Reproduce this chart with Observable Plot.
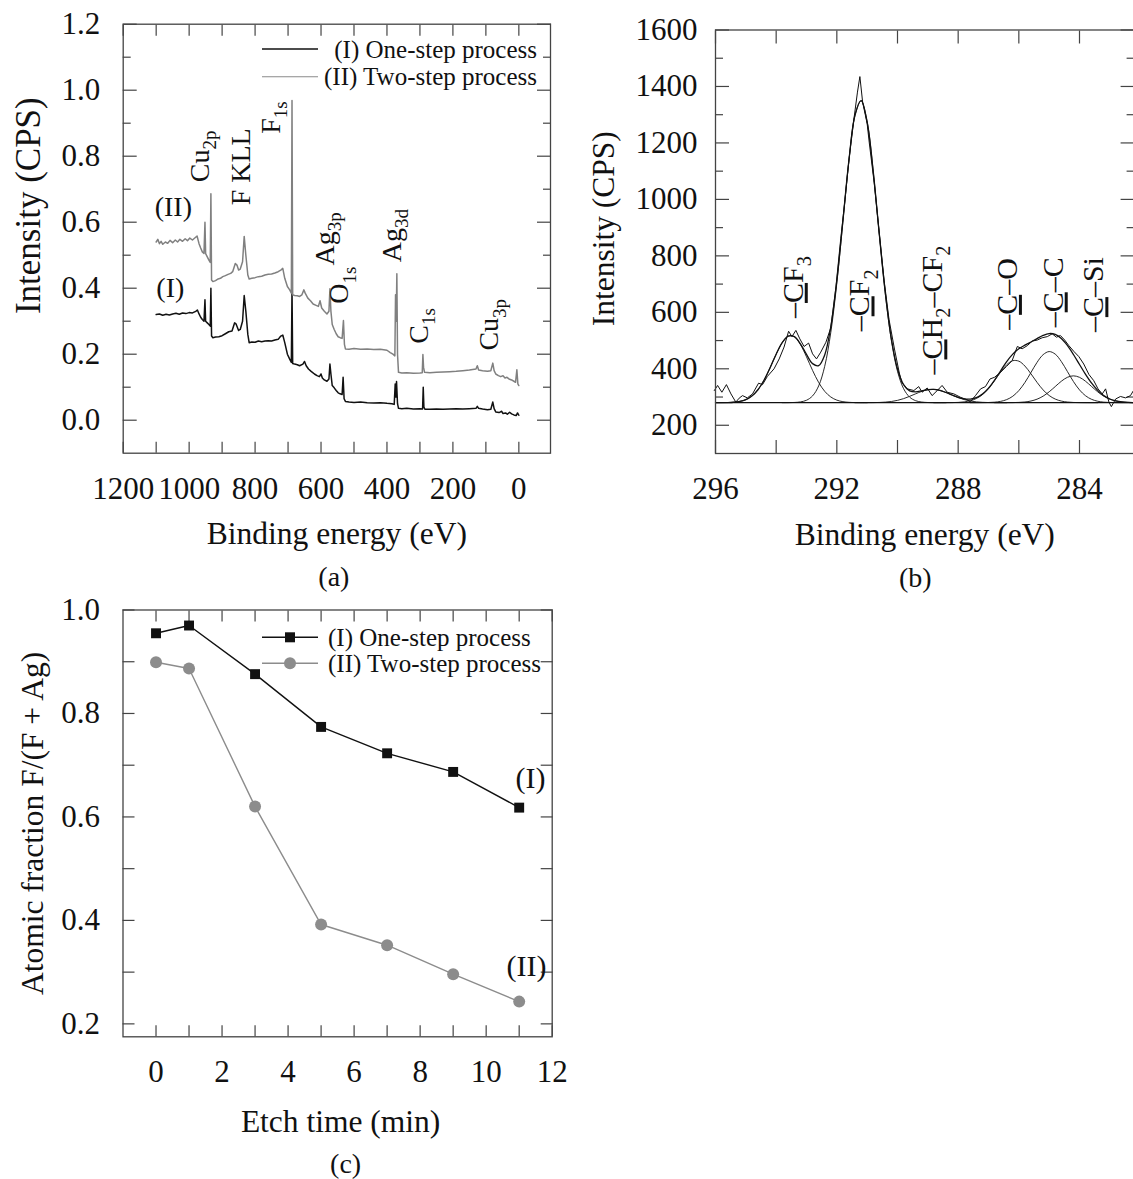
<!DOCTYPE html>
<html><head><meta charset="utf-8">
<script src="https://cdn.jsdelivr.net/npm/d3@7"></script>
<script src="https://cdn.jsdelivr.net/npm/@observablehq/plot@0.6"></script>
<style>
html,body{margin:0;padding:0;background:#fff;overflow:hidden;}
#page{position:relative;width:1133px;height:1179px;overflow:hidden;background:#fff;}
</style></head><body><div id="page"></div>
<script>
// ---------------- DATA ----------------
const seriesNames = ["(I) One-step process", "(II) Two-step process"];

// (a) XPS survey spectra: [binding energy (eV), intensity (CPS, scaled)]
const spectrumOneStep = [
[1100,0.320],[1090,0.322],[1080,0.318],[1070,0.321],[1060,0.319],[1050,0.322],[1040,0.324],[1030,0.321],[1020,0.325],[1010,0.323],[1000,0.326],[990,0.325],[980,0.330],[975,0.334],[970,0.322],[965,0.312],[960,0.305],[955,0.300],[952,0.365],[950,0.300],[945,0.295],[940,0.290],[936,0.285],[934,0.400],[932,0.255],[928,0.250],[920,0.252],[910,0.253],[900,0.256],[890,0.262],[880,0.268],[870,0.270],[862,0.295],[858,0.292],[850,0.272],[845,0.275],[838,0.300],[833,0.378],[828,0.330],[822,0.260],[818,0.235],[810,0.237],[800,0.236],[790,0.240],[780,0.238],[770,0.240],[760,0.241],[750,0.240],[740,0.243],[730,0.245],[722,0.255],[716,0.258],[710,0.235],[702,0.200],[695,0.185],[690,0.175],[688,0.400],[686,0.172],[680,0.170],[672,0.168],[665,0.165],[655,0.170],[650,0.178],[645,0.165],[638,0.155],[630,0.148],[620,0.140],[612,0.135],[605,0.132],[600,0.140],[596,0.128],[590,0.122],[582,0.118],[576,0.125],[573,0.170],[570,0.140],[566,0.105],[560,0.098],[554,0.090],[548,0.083],[542,0.080],[536,0.078],[533,0.130],[530,0.065],[526,0.057],[515,0.055],[500,0.054],[480,0.055],[460,0.053],[440,0.052],[420,0.053],[400,0.051],[385,0.050],[378,0.048],[375,0.110],[373,0.070],[371,0.117],[368,0.050],[365,0.036],[355,0.035],[340,0.036],[320,0.034],[300,0.035],[292,0.034],[290,0.100],[288,0.040],[285,0.033],[270,0.033],[250,0.034],[230,0.033],[210,0.034],[190,0.035],[170,0.034],[150,0.035],[130,0.036],[126,0.042],[122,0.036],[110,0.034],[95,0.032],[85,0.033],[79,0.055],[75,0.035],[70,0.025],[60,0.023],[52,0.027],[48,0.020],[40,0.022],[35,0.018],[28,0.024],[22,0.019],[15,0.016],[8,0.014],[4,0.022],[0,0.015]
];
const spectrumTwoStep = [
[1100,0.540],[1095,0.548],[1090,0.535],[1085,0.542],[1080,0.533],[1072,0.540],[1065,0.536],[1058,0.545],[1050,0.538],[1042,0.546],[1035,0.540],[1028,0.548],[1020,0.542],[1012,0.550],[1005,0.544],[998,0.552],[990,0.546],[982,0.553],[976,0.558],[970,0.535],[965,0.522],[960,0.510],[955,0.505],[952,0.600],[950,0.505],[945,0.495],[940,0.485],[936,0.478],[934,0.686],[932,0.425],[928,0.420],[920,0.423],[912,0.428],[905,0.430],[898,0.435],[890,0.438],[882,0.442],[874,0.445],[868,0.450],[860,0.475],[855,0.470],[850,0.455],[845,0.458],[838,0.480],[833,0.557],[828,0.500],[822,0.440],[818,0.428],[810,0.430],[800,0.432],[790,0.435],[780,0.436],[770,0.440],[760,0.442],[750,0.443],[740,0.446],[730,0.450],[722,0.455],[716,0.460],[710,0.430],[702,0.405],[695,0.395],[690,0.385],[688,0.969],[686,0.380],[680,0.378],[672,0.377],[665,0.375],[658,0.380],[652,0.395],[648,0.385],[640,0.370],[632,0.362],[624,0.352],[615,0.348],[608,0.345],[603,0.362],[598,0.340],[590,0.330],[582,0.322],[576,0.330],[573,0.398],[570,0.330],[566,0.290],[560,0.275],[554,0.262],[548,0.253],[542,0.250],[536,0.248],[532,0.302],[529,0.230],[526,0.216],[515,0.215],[500,0.217],[480,0.215],[460,0.216],[440,0.214],[420,0.215],[400,0.212],[390,0.205],[382,0.200],[376,0.195],[374,0.380],[372,0.300],[370,0.444],[368,0.200],[365,0.145],[355,0.143],[340,0.144],[320,0.142],[300,0.143],[293,0.144],[291,0.199],[289,0.160],[286,0.145],[270,0.144],[250,0.145],[230,0.146],[210,0.147],[190,0.148],[170,0.150],[150,0.152],[130,0.155],[126,0.165],[122,0.152],[110,0.150],[95,0.148],[85,0.150],[79,0.173],[75,0.150],[70,0.140],[62,0.135],[55,0.132],[48,0.135],[42,0.128],[36,0.130],[30,0.125],[22,0.122],[15,0.118],[10,0.115],[6,0.153],[3,0.110],[0,0.105]
];
const surveyPeakLabels = [
  {text: "Cu_{2p}", energy: 968, intensity: 0.721},
  {text: "F KLL", energy: 844, intensity: 0.651},
  {text: "F_{1s}", energy: 753, intensity: 0.868},
  {text: "Ag_{3p}", energy: 589, intensity: 0.469},
  {text: "O_{1s}", energy: 544, intensity: 0.353},
  {text: "Ag_{3d}", energy: 386, intensity: 0.479},
  {text: "C_{1s}", energy: 304, intensity: 0.232},
  {text: "Cu_{3p}", energy: 89, intensity: 0.211}
];
const surveySeriesLabels = [
  {text: "(II)", energy: 1048, intensity: 0.645},
  {text: "(I)", energy: 1057, intensity: 0.400}
];
const surveyEnergyTicks = [1200, 1000, 800, 600, 400, 200, 0];
const surveyEnergyMinor = [1100, 900, 700, 500, 300, 100];
const surveyIntensityTicks = [0, 0.2, 0.4, 0.6, 0.8, 1.0, 1.2];
const surveyIntensityMinor = [0.1, 0.3, 0.5, 0.7, 0.9, 1.1];

// (b) C1s high-resolution spectrum: [binding energy (eV), intensity (CPS)]
const c1sBaseline = 280;
const c1sRaw = [
[296.04,323],[295.93,341],[295.79,317],[295.64,344],[295.49,311],[295.33,282],[295.22,296],[295.11,305],[294.95,297],[294.78,311],[294.58,349],[294.45,344],[294.29,373],[294.07,400],[293.90,435],[293.74,477],[293.59,533],[293.48,514],[293.35,536],[293.22,506],[293.08,479],[292.93,491],[292.80,453],[292.67,435],[292.53,459],[292.36,494],[292.20,545],[292.03,690],[291.87,862],[291.73,1000],[291.59,1150],[291.43,1290],[291.32,1380],[291.24,1435],[291.15,1345],[291.00,1268],[290.93,1200],[290.77,1060],[290.60,880],[290.44,712],[290.28,575],[290.10,470],[289.94,385],[289.86,352],[289.68,329],[289.46,323],[289.30,337],[289.19,317],[289.02,332],[288.86,305],[288.69,323],[288.53,341],[288.36,317],[288.14,311],[287.92,299],[287.70,290],[287.60,283],[287.43,305],[287.26,329],[287.10,337],[286.95,364],[286.80,370],[286.60,388],[286.41,408],[286.22,429],[286.05,479],[285.89,471],[285.72,482],[285.56,498],[285.39,502],[285.23,510],[285.06,514],[284.90,524],[284.76,512],[284.63,518],[284.49,502],[284.35,482],[284.19,462],[284.02,443],[283.86,417],[283.69,380],[283.53,358],[283.39,329],[283.25,311],[283.14,329],[283.03,282],[282.95,266],[282.81,293],[282.65,302],[282.48,297],[282.32,305],[282.22,323]
];
const c1sEnvelope = [
[296.0,280],[295.8,280.2],[295.6,280.5],[295.4,281.6],[295.2,284.4],[295.0,290.7],[294.8,303.5],[294.6,325.8],[294.4,359.6],[294.2,403.7],[294.0,451.8],[293.8,493],[293.6,515.9],[293.4,514],[293.2,488.6],[293.0,451],[292.8,418.3],[292.6,411],[292.4,449],[292.2,548.5],[292.0,712.7],[291.8,924.5],[291.6,1140.3],[291.4,1299],[291.2,1350],[291.0,1274],[290.8,1098.5],[290.6,877],[290.4,666.8],[290.2,504],[290.0,399.4],[289.8,344],[289.6,322],[289.4,318.4],[289.2,322],[289.0,326],[288.8,327],[288.6,323.3],[288.4,316],[288.2,307.2],[288.0,299.1],[287.8,293.8],[287.6,292.8],[287.4,297.7],[287.2,310.3],[287.0,331.2],[286.8,360],[286.6,392.9],[286.4,425.3],[286.2,451.8],[286.0,470.8],[285.8,483.8],[285.6,495.1],[285.4,507.1],[285.2,518.4],[285.0,524.9],[284.8,521.9],[284.6,507.4],[284.4,482.7],[284.2,450.7],[284.0,415.3],[283.8,380.2],[283.6,348.9],[283.4,323.6],[283.2,305],[283.0,293.1],[282.8,286.1],[282.6,282.5],[282.4,281],[282.2,280.3]
];
const componentCF3 = [
[296.0,280],[295.6,280.5],[295.4,281.6],[295.2,284.4],[295.0,290.7],[294.8,303.5],[294.6,325.8],[294.4,359.6],[294.2,403.7],[294.0,451.8],[293.8,493],[293.6,515.9],[293.4,513.2],[293.2,485.9],[293.0,442.4],[292.8,394.3],[292.6,351.9],[292.4,320.3],[292.2,300.2],[292.0,289],[291.8,283.6],[291.6,281.3],[291.4,280.4],[291.0,280]
];
const componentCF2 = [
[293.8,280],[293.6,280.1],[293.4,280.8],[293.2,282.7],[293.0,288.6],[292.8,304],[292.6,339.1],[292.4,408.7],[292.2,528.3],[292.0,703.7],[291.8,920.9],[291.6,1139],[291.4,1298.6],[291.2,1349.8],[291.0,1274],[290.8,1098.4],[290.6,876.2],[290.4,664.8],[290.2,499.7],[290.0,391.2],[289.8,329.8],[289.6,299.7],[289.4,286.9],[289.2,282.2],[289.0,280.6],[288.8,280],[288.4,280]
];
const componentCH2CF2 = [
[291.4,280],[291.0,280.1],[290.8,280.3],[290.6,280.8],[290.4,282],[290.2,284.2],[290.0,288.2],[289.8,294.3],[289.6,302.4],[289.4,311.5],[289.2,320],[289.0,325.6],[288.8,327],[288.6,323.3],[288.4,316],[288.2,306.9],[288.0,298.1],[287.8,291],[287.6,286],[287.4,282.9],[287.2,281.3],[287.0,280.5],[286.8,280.2],[286.4,280]
];
const componentCO = [
[288.8,280],[288.4,280.1],[288.2,280.3],[288.0,281],[287.8,282.8],[287.6,286.8],[287.4,294.8],[287.2,308.8],[287.0,330.1],[286.8,358],[286.6,388.3],[286.4,414.3],[286.2,428.7],[286.0,427],[285.8,409.8],[285.6,382.3],[285.4,352],[285.2,325.3],[285.0,305.4],[284.8,292.8],[284.6,285.7],[284.4,282.3],[284.2,280.8],[284.0,280.3],[283.8,280],[283.4,280]
];
const componentCC = [
[287.6,280],[287.2,280.2],[287.0,280.6],[286.8,281.8],[286.6,284.6],[286.4,290.9],[286.2,302.8],[286.0,322.8],[285.8,351.5],[285.6,386.9],[285.4,422.7],[285.2,450],[285.0,461],[284.8,452],[284.6,425.9],[284.4,390.6],[284.2,354.9],[284.0,325.2],[283.8,304.4],[283.6,291.8],[283.4,285.1],[283.2,281.9],[283.0,280.7],[282.8,280.2],[282.6,280],[282.2,280]
];
const componentCSi = [
[286.8,280],[286.4,280.1],[286.2,280.3],[286.0,281],[285.8,282.5],[285.6,285.9],[285.4,292.4],[285.2,303.1],[285.0,318.5],[284.8,337.1],[284.6,355.8],[284.4,369.8],[284.2,375],[284.0,369.8],[283.8,355.8],[283.6,337.1],[283.4,318.5],[283.2,303.1],[283.0,292.4],[282.8,285.9],[282.6,282.5],[282.4,281],[282.2,280.3]
];
const c1sComponents = [componentCF3, componentCF2, componentCH2CF2, componentCO, componentCC, componentCSi];
const c1sPeakLabels = [
  {text: "–[C]F_{3}", energy: 293.44, cps: 580},
  {text: "–[C]F_{2}", energy: 291.24, cps: 533},
  {text: "–[C]H_{2}–CF_{2}", energy: 288.84, cps: 380},
  {text: "–[C]–O", energy: 286.38, cps: 538},
  {text: "–[C]–C", energy: 284.87, cps: 547},
  {text: "–[C]–Si", energy: 283.53, cps: 530}
];
const c1sEnergyLabels = [296, 292, 288, 284];
const c1sEnergyTicks = [296, 294, 292, 290, 288, 286, 284];
const c1sCpsTicks = [200, 400, 600, 800, 1000, 1200, 1400, 1600];
const c1sCpsMinor = [300, 500, 700, 900, 1100, 1300, 1500];

// (c) Atomic fraction vs etch time
const etchTime = [0, 1, 3, 5, 7, 9, 11];
const fractionOneStep = [0.955, 0.970, 0.876, 0.774, 0.723, 0.687, 0.618];
const fractionTwoStep = [0.899, 0.887, 0.620, 0.392, 0.352, 0.296, 0.243];
const etchSeriesLabels = [
  {text: "(I)", time: 11.34, fraction: 0.674},
  {text: "(II)", time: 11.22, fraction: 0.312}
];
const etchTicks = [0, 2, 4, 6, 8, 10, 12];
const etchMinor = [1, 3, 5, 7, 9, 11];
const fractionTicks = [0.2, 0.4, 0.6, 0.8, 1.0];
const fractionMinor = [0.3, 0.5, 0.7, 0.9];

// ---------------- STYLE ----------------
const FONT = '"Liberation Serif", "Times New Roman", Times, serif';
const INK = "#111";
const AXIS = "#444";
const GREY = "#808080";
const GREY_DOT = "#8c8c8c";
const TICK_FS = 31;
const TITLE_FS = 31.5;

function frameAxes(o) {
  const t = {stroke: AXIS, strokeWidth: 1.2, fill: "none", label: null};
  const m = [];
  for (const anchor of ["bottom", "top"]) {
    m.push(Plot.axisX(o.xTicks, {anchor, tickSize: -o.xLen, ...t}));
  }
  for (const anchor of ["left", "right"]) {
    m.push(Plot.axisY(o.yTicks, {anchor, tickSize: -o.yLen, ...t}));
    if (o.yMinor) m.push(Plot.axisY(o.yMinor, {anchor, tickSize: -o.yMinorLen, ...t}));
  }
  m.push(Plot.axisX(o.xLabels, {anchor: "bottom", tickSize: 0, tickPadding: o.xPad, tickFormat: o.xFormat, fontSize: TICK_FS, fill: INK, label: null}));
  m.push(Plot.axisY(o.yLabels, {anchor: "left", tickSize: 0, tickPadding: o.yPad, tickFormat: o.yFormat, fontSize: TICK_FS, fill: INK, label: null}));
  return m;
}
function caption(str, opts) {
  return Plot.text([str], {text: d => d, fill: INK, textAnchor: "middle", lineAnchor: "middle", ...opts});
}

const page = document.getElementById("page");
function place(svg, left, top) {
  svg.style.position = "absolute";
  svg.style.left = left + "px";
  svg.style.top = top + "px";
  svg.style.overflow = "visible";
  page.appendChild(svg);
  richify(svg);
}
// converts _{sub} and [underline] markup into tspans
function richify(root) {
  const NS = "http://www.w3.org/2000/svg";
  root.querySelectorAll("text").forEach(t => {
    if (t.querySelector("tspan")) return;
    const s = t.textContent;
    if (!/[_\[]/.test(s)) return;
    const fs = parseFloat(getComputedStyle(t).fontSize) || 28;
    const sub = +(fs * 0.27).toFixed(1);
    t.textContent = "";
    const re = /_\{([^}]*)\}|\[([^\]]*)\]|([^_\[]+)/g;
    let m, shifted = false;
    while ((m = re.exec(s))) {
      const ts = document.createElementNS(NS, "tspan");
      if (m[1] !== undefined) {
        ts.textContent = m[1];
        ts.setAttribute("font-size", (fs * 0.68).toFixed(1));
        if (!shifted) { ts.setAttribute("dy", sub); shifted = true; }
      } else {
        ts.textContent = m[2] !== undefined ? m[2] : m[3];
        if (shifted) { ts.setAttribute("dy", -sub); shifted = false; }
        if (m[2] !== undefined) ts.setAttribute("text-decoration", "underline");
      }
      t.appendChild(ts);
    }
  });
}

// ---------------- (a) ----------------
const svgA = Plot.plot({
  width: 570, height: 600,
  marginLeft: 122.7, marginRight: 20, marginTop: 23.7, marginBottom: 147.3,
  x: {domain: [1200, -96]},
  y: {domain: [-0.1, 1.2]},
  style: {fontFamily: FONT, background: "transparent", color: INK},
  marks: [
    ...frameAxes({xTicks: [...surveyEnergyTicks, ...surveyEnergyMinor], xLen: 11, yTicks: surveyIntensityTicks, yLen: 14, yMinor: surveyIntensityMinor, yMinorLen: 8,
      xLabels: surveyEnergyTicks, yLabels: surveyIntensityTicks, xFormat: d => String(d), yFormat: d3.format(".1f"), xPad: 24, yPad: 23}),
    Plot.line(spectrumOneStep, {x: d => d[0], y: d => d[1], stroke: INK, strokeWidth: 1.5}),
    Plot.line(spectrumTwoStep, {x: d => d[0], y: d => d[1], stroke: GREY, strokeWidth: 1.5}),
    Plot.text(surveyPeakLabels, {x: "energy", y: "intensity", text: "text", rotate: -90, textAnchor: "start", fontSize: 28, fill: INK}),
    Plot.text(surveySeriesLabels, {x: "energy", y: "intensity", text: "text", fontSize: 28, fill: INK}),
    caption("Binding energy (eV)", {frameAnchor: "bottom", dy: 81, fontSize: TITLE_FS}),
    caption("(a)", {frameAnchor: "bottom", dy: 124, dx: -3, fontSize: 28}),
    caption("Intensity (CPS)", {frameAnchor: "left", rotate: -90, dx: -94, dy: -33, fontSize: 35}),
    Plot.frame({stroke: AXIS, strokeWidth: 1.3})
  ]
});
place(svgA, 0, 0);

// ---------------- (b) ----------------
const svgB = Plot.plot({
  width: 600, height: 600,
  marginLeft: 145, marginRight: 36.4, marginTop: 29.5, marginBottom: 147,
  x: {domain: [296, 282.2]},
  y: {domain: [100, 1600]},
  style: {fontFamily: FONT, background: "transparent", color: INK},
  marks: [
    ...frameAxes({xTicks: c1sEnergyTicks, xLen: 13, yTicks: c1sCpsTicks, yLen: 14, yMinor: c1sCpsMinor, yMinorLen: 8,
      xLabels: c1sEnergyLabels, yLabels: c1sCpsTicks, xFormat: d => String(d), yFormat: d => String(d), xPad: 23, yPad: 18}),
    Plot.ruleY([c1sBaseline], {stroke: INK, strokeWidth: 1.3}),
    ...c1sComponents.map(c => Plot.line(c, {x: d => d[0], y: d => d[1], stroke: INK, strokeWidth: 0.9, curve: "catmull-rom"})),
    Plot.line(c1sEnvelope, {x: d => d[0], y: d => d[1], stroke: INK, strokeWidth: 1.3, curve: "catmull-rom"}),
    Plot.line(c1sRaw, {x: d => d[0], y: d => d[1], stroke: INK, strokeWidth: 1}),
    Plot.text(c1sPeakLabels, {x: "energy", y: "cps", text: "text", rotate: -90, textAnchor: "start", fontSize: 30, fill: INK}),
    caption("Binding energy (eV)", {frameAnchor: "bottom", dy: 81, fontSize: TITLE_FS}),
    caption("(b)", {frameAnchor: "bottom", dy: 125, dx: -9.5, fontSize: 28}),
    caption("Intensity (CPS)", {frameAnchor: "left", rotate: -90, dx: -112, dy: -13, fontSize: TITLE_FS}),
    Plot.frame({stroke: AXIS, strokeWidth: 1.3})
  ]
});
place(svgB, 570, 0);

// ---------------- (c) ----------------
const rowsOne = etchTime.map((t, i) => ({t, f: fractionOneStep[i]}));
const rowsTwo = etchTime.map((t, i) => ({t, f: fractionTwoStep[i]}));
const svgC = Plot.plot({
  width: 580, height: 589,
  marginLeft: 122.5, marginRight: 28.3, marginTop: 19.5, marginBottom: 142.7,
  x: {domain: [-1, 12]},
  y: {domain: [0.175, 1.0]},
  style: {fontFamily: FONT, background: "transparent", color: INK},
  marks: [
    ...frameAxes({xTicks: [...etchTicks, ...etchMinor], xLen: 11, yTicks: [...fractionTicks, ...fractionMinor], yLen: 12,
      xLabels: etchTicks, yLabels: fractionTicks, xFormat: d => String(d), yFormat: d3.format(".1f"), xPad: 23, yPad: 23}),
    Plot.line(rowsTwo, {x: "t", y: "f", stroke: GREY_DOT, strokeWidth: 1.4}),
    Plot.dot(rowsTwo, {x: "t", y: "f", r: 6, fill: GREY_DOT, stroke: "none"}),
    Plot.line(rowsOne, {x: "t", y: "f", stroke: INK, strokeWidth: 1.4}),
    Plot.dot(rowsOne, {x: "t", y: "f", r: 5.6, symbol: "square", fill: INK, stroke: "none"}),
    Plot.text(etchSeriesLabels, {x: "time", y: "fraction", text: "text", fontSize: 30, fill: INK}),
    caption("Etch time (min)", {frameAnchor: "bottom", dy: 85, dx: 3, fontSize: TITLE_FS}),
    caption("(c)", {frameAnchor: "bottom", dy: 127, dx: 8, fontSize: 28}),
    caption("Atomic fraction F/(F + Ag)", {frameAnchor: "left", rotate: -90, dx: -90.5, fontSize: TITLE_FS}),
    Plot.frame({stroke: AXIS, strokeWidth: 1.3})
  ]
});
place(svgC, 0, 590);

// ---------------- legends ----------------
const ov = d3.select(page).append("svg")
  .attr("width", 1133).attr("height", 1179)
  .style("position", "absolute").style("left", "0px").style("top", "0px")
  .style("pointer-events", "none")
  .attr("font-family", FONT).attr("font-size", 25).attr("fill", INK);
// (a)
[[49, INK, 1.5], [76.7, "#8a8a8a", 1.1]].forEach(([y, c, w], i) => {
  ov.append("line").attr("x1", 262).attr("x2", 318).attr("y1", y).attr("y2", y).attr("stroke", c).attr("stroke-width", w);
  ov.append("text").attr("x", 537).attr("y", y).attr("dy", "0.34em").attr("text-anchor", "end").text(seriesNames[i]);
});
// (c)
[[637.3, INK], [663.3, GREY_DOT]].forEach(([y, c], i) => {
  ov.append("line").attr("x1", 262).attr("x2", 318).attr("y1", y).attr("y2", y).attr("stroke", c).attr("stroke-width", 1.4);
  if (i === 0) ov.append("rect").attr("x", 285).attr("y", y - 5).attr("width", 10).attr("height", 10).attr("fill", c);
  else ov.append("circle").attr("cx", 290).attr("cy", y).attr("r", 6).attr("fill", c);
  ov.append("text").attr("x", 328).attr("y", y).attr("dy", "0.34em").attr("text-anchor", "start").text(seriesNames[i]);
});
</script></body></html>
